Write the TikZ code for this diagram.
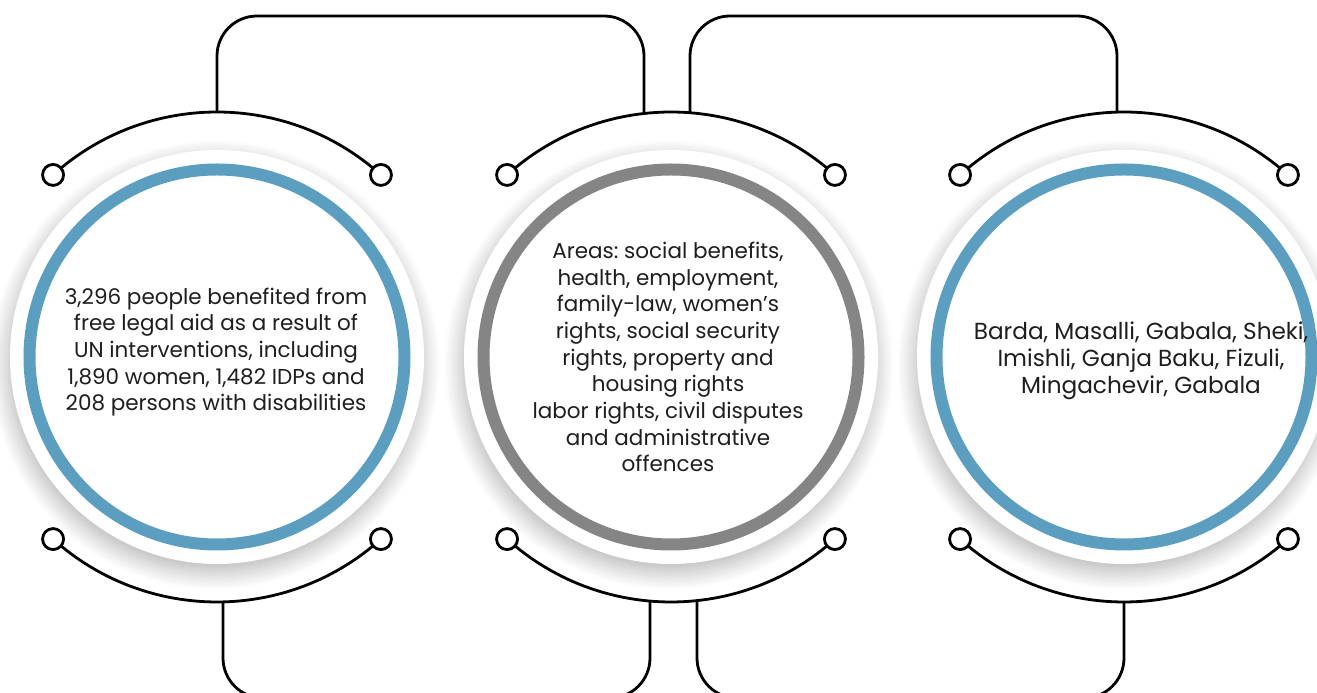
\documentclass[tikz,border=0pt]{standalone}
\usepackage{fontspec}
\setmainfont{Poppins}
\usetikzlibrary{calc,shadows.blur}
\definecolor{ringblue}{HTML}{5B9EC0}
\definecolor{ringgray}{HTML}{858585}
\definecolor{txt}{HTML}{1E1E1E}
\frenchspacing
\tikzset{
  disc/.style={circle, fill=white, minimum size=414pt, inner sep=0pt,
    blur shadow={shadow xshift=-2pt, shadow yshift=-8pt, shadow blur radius=18pt,
      shadow blur steps=20, shadow opacity=30}},
  ring/.style={circle, draw=#1, line width=12pt, minimum size=375pt, inner sep=0pt},
  wire/.style={line width=2.8pt, draw=black, rounded corners=40pt},
  dot/.style={circle, draw=black, line width=2.8pt, fill=white, minimum size=21pt, inner sep=0pt},
  label/.style={align=center, font=\fontsize{21.5}{26.7}\selectfont\frenchspacing, text=txt},
  biglabel/.style={label, font=\fontsize{23.2}{27}\selectfont\frenchspacing}
}
\begin{document}
\begin{tikzpicture}[x=1pt,y=1pt]
\useasboundingbox (0,0) rectangle (1317,693);
\clip (0,0) rectangle (1317,693);
% discs with shadow
\node[disc] (d1) at (217,336) {};
\node[disc] (d2) at (671,336) {};
\node[disc] (d3) at (1124,336) {};
% rings
\node[ring=ringblue] (c1) at (d1) {};
\node[ring=ringgray] (c2) at (d2) {};
\node[ring=ringblue] (c3) at (d3) {};
% arcs above and below each circle
\foreach \c in {d1,d2,d3}{
  \draw[wire] ($(\c)+(132:245)$) arc[start angle=132, end angle=48, radius=245];
  \draw[wire] ($(\c)+(228:245)$) arc[start angle=228, end angle=312, radius=245];
}
% connector end points on the arcs
\coordinate (t1a) at (217,581);
\coordinate (t1b) at (644,579.5);
\coordinate (t2a) at (690,580.3);
\coordinate (t2b) at (1117,580.9);
\coordinate (b1a) at (223,91.1);
\coordinate (b1b) at (650,91.9);
\coordinate (b2a) at (697,92.4);
\coordinate (b2b) at (1124,91);
\coordinate (htop) at (0,677);
\coordinate (hbot) at (0,-5);
% connectors
\draw[wire] (t1a) -- (t1a |- htop) -- (t1b |- htop) -- (t1b);
\draw[wire] (t2a) -- (t2a |- htop) -- (t2b |- htop) -- (t2b);
\draw[wire] (b1a) -- (b1a |- hbot) -- (b1b |- hbot) -- (b1b);
\draw[wire] (b2a) -- (b2a |- hbot) -- (b2b |- hbot) -- (b2b);
% small end circles
\foreach \c in {d1,d2,d3}{
  \node[dot] (\c-ul) at ($(\c)+(132:245)$) {};
  \node[dot] (\c-ur) at ($(\c)+(48:245)$) {};
  \node[dot] (\c-ll) at ($(\c)+(228:245)$) {};
  \node[dot] (\c-lr) at ($(\c)+(312:245)$) {};
}
% texts
\node[label] (l1) at (216,341) {3,296 people benefited from\\free legal aid as a result of\\UN interventions, including\\1,890 women, 1,482 IDPs and\\208 persons with disabilities};
\node[label] (l2) at (668,336) {Areas: social benefits,\\health, employment,\\family-law, women’s\\rights, social security\\rights, property and\\housing rights\\labor rights, civil disputes\\and administrative\\offences};
\node[biglabel] (l3) at (1141,332) {Barda, Masalli, Gabala, Sheki,\\Imishli, Ganja Baku, Fizuli,\\Mingachevir, Gabala};
\end{tikzpicture}
\end{document}
